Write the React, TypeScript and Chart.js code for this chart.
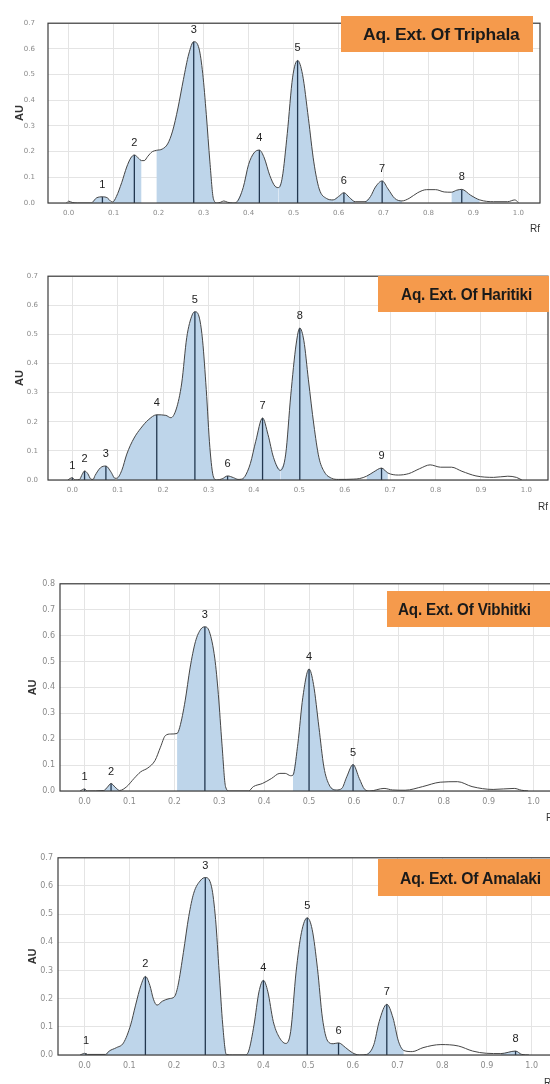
import React, { useEffect, useRef } from "react";
import { Chart, registerables } from "chart.js";

Chart.register(...registerables);

// ---------- axis ticks ----------
const xTickValues = [0, 0.1, 0.2, 0.3, 0.4, 0.5, 0.6, 0.7, 0.8, 0.9, 1.0];
const xTickLabels = ["0.0", "0.1", "0.2", "0.3", "0.4", "0.5", "0.6", "0.7", "0.8", "0.9", "1.0"];
const yTickValues7 = [0, 0.1, 0.2, 0.3, 0.4, 0.5, 0.6, 0.7];
const yTickValues8 = [0, 0.1, 0.2, 0.3, 0.4, 0.5, 0.6, 0.7, 0.8];
const yTickLabels = ["0.0", "0.1", "0.2", "0.3", "0.4", "0.5", "0.6", "0.7", "0.8"];

// ---------- Triphala ----------
const triphalaRf = [-0.005, 0.0, 0.008, 0.02, 0.05, 0.053, 0.062, 0.075, 0.086, 0.094, 0.098, 0.106, 0.118, 0.129, 0.138, 0.146, 0.155, 0.162, 0.168, 0.176, 0.186, 0.195, 0.208, 0.22, 0.231, 0.243, 0.255, 0.267, 0.278, 0.29, 0.298, 0.306, 0.314, 0.322, 0.33, 0.338, 0.345, 0.353, 0.365, 0.373, 0.388, 0.4, 0.412, 0.424, 0.435, 0.447, 0.459, 0.467, 0.475, 0.486, 0.498, 0.509, 0.52, 0.533, 0.545, 0.557, 0.573, 0.588, 0.6, 0.612, 0.624, 0.637, 0.659, 0.671, 0.682, 0.697, 0.71, 0.725, 0.741, 0.757, 0.776, 0.796, 0.816, 0.835, 0.851, 0.863, 0.874, 0.894, 0.914, 0.945, 0.976, 0.992, 1.0];
const triphalaAU = [0.0, 0.007, 0.002, 0.0, 0.0, 0.003, 0.02, 0.024, 0.02, 0.006, 0.004, 0.025, 0.08, 0.14, 0.175, 0.187, 0.175, 0.165, 0.165, 0.182, 0.2, 0.205, 0.21, 0.23, 0.28, 0.37, 0.48, 0.58, 0.628, 0.6, 0.505, 0.345, 0.16, 0.015, 0.0, 0.003, 0.008, 0.003, 0.0, 0.003, 0.06, 0.15, 0.195, 0.206, 0.175, 0.108, 0.065, 0.06, 0.1, 0.27, 0.49, 0.555, 0.5, 0.33, 0.16, 0.055, 0.018, 0.012, 0.025, 0.04, 0.022, 0.005, 0.005, 0.025, 0.062, 0.086, 0.055, 0.018, 0.008, 0.018, 0.04, 0.052, 0.052, 0.043, 0.042, 0.05, 0.053, 0.03, 0.012, 0.005, 0.005, 0.012, 0.002];
const triphalaFills = [[0.053, 0.094], [0.098, 0.162], [0.195, 0.33], [0.373, 0.467], [0.467, 0.588], [0.588, 0.637], [0.659, 0.741], [0.851, 0.914]];
const triphalaPeakRf = [0.075, 0.146, 0.278, 0.424, 0.509, 0.612, 0.697, 0.874];
const triphalaPeakAU = [0.024, 0.187, 0.628, 0.206, 0.555, 0.04, 0.086, 0.053];
const triphalaPeakLabels = ["1", "2", "3", "4", "5", "6", "7", "8"];

// ---------- Haritiki ----------
const haritikiRf = [-0.01, 0.0, 0.006, 0.016, 0.022, 0.027, 0.034, 0.041, 0.046, 0.05, 0.062, 0.074, 0.085, 0.094, 0.098, 0.109, 0.12, 0.136, 0.151, 0.167, 0.186, 0.206, 0.217, 0.229, 0.241, 0.252, 0.264, 0.27, 0.28, 0.287, 0.295, 0.303, 0.311, 0.318, 0.33, 0.342, 0.355, 0.365, 0.373, 0.38, 0.392, 0.404, 0.419, 0.431, 0.443, 0.458, 0.47, 0.481, 0.493, 0.501, 0.51, 0.52, 0.532, 0.543, 0.555, 0.571, 0.586, 0.62, 0.633, 0.648, 0.664, 0.681, 0.695, 0.718, 0.741, 0.765, 0.788, 0.811, 0.835, 0.858, 0.889, 0.928, 0.959, 0.978, 0.99];
const haritikiAU = [0.0, 0.008, 0.0, 0.002, 0.02, 0.031, 0.022, 0.003, 0.002, 0.015, 0.042, 0.048, 0.028, 0.006, 0.006, 0.033, 0.089, 0.144, 0.178, 0.206, 0.224, 0.222, 0.214, 0.244, 0.333, 0.489, 0.567, 0.578, 0.556, 0.478, 0.311, 0.111, 0.01, 0.0, 0.004, 0.014, 0.008, 0.002, 0.003, 0.012, 0.056, 0.133, 0.213, 0.156, 0.078, 0.033, 0.089, 0.289, 0.467, 0.522, 0.478, 0.344, 0.189, 0.078, 0.028, 0.006, 0.002, 0.003, 0.005, 0.013, 0.028, 0.041, 0.024, 0.017, 0.022, 0.039, 0.052, 0.044, 0.044, 0.03, 0.014, 0.009, 0.013, 0.009, 0.0];
const haritikiFills = [[0.016, 0.041], [0.046, 0.094], [0.098, 0.318], [0.33, 0.365], [0.373, 0.458], [0.458, 0.571], [0.648, 0.695]];
const haritikiPeakRf = [0.0, 0.027, 0.074, 0.186, 0.27, 0.342, 0.419, 0.501, 0.681];
const haritikiPeakAU = [0.008, 0.031, 0.048, 0.224, 0.578, 0.014, 0.213, 0.522, 0.041];
const haritikiPeakLabels = ["1", "2", "3", "4", "5", "6", "7", "8", "9"];

// ---------- Vibhitki ----------
const vibhitkiRf = [-0.01, 0.0, 0.006, 0.043, 0.051, 0.059, 0.068, 0.078, 0.094, 0.11, 0.125, 0.141, 0.157, 0.169, 0.18, 0.192, 0.206, 0.212, 0.224, 0.235, 0.247, 0.259, 0.268, 0.278, 0.29, 0.298, 0.306, 0.314, 0.322, 0.365, 0.376, 0.396, 0.416, 0.435, 0.447, 0.459, 0.464, 0.475, 0.486, 0.5, 0.51, 0.522, 0.533, 0.545, 0.561, 0.573, 0.584, 0.598, 0.612, 0.624, 0.635, 0.667, 0.686, 0.714, 0.753, 0.792, 0.831, 0.863, 0.91, 0.957, 0.973, 0.988];
const vibhitkiAU = [0.0, 0.008, 0.0, 0.002, 0.015, 0.029, 0.015, 0.002, 0.017, 0.048, 0.074, 0.089, 0.118, 0.169, 0.214, 0.22, 0.222, 0.246, 0.348, 0.475, 0.577, 0.625, 0.634, 0.615, 0.513, 0.373, 0.182, 0.017, 0.0, 0.0, 0.017, 0.029, 0.048, 0.068, 0.068, 0.059, 0.061, 0.182, 0.36, 0.471, 0.411, 0.246, 0.093, 0.023, 0.004, 0.01, 0.055, 0.102, 0.048, 0.006, 0.0, 0.01, 0.004, 0.003, 0.017, 0.034, 0.036, 0.017, 0.006, 0.01, 0.003, 0.0];
const vibhitkiFills = [[0.043, 0.078], [0.206, 0.322], [0.464, 0.561], [0.561, 0.635]];
const vibhitkiPeakRf = [0.0, 0.059, 0.268, 0.5, 0.598];
const vibhitkiPeakAU = [0.008, 0.029, 0.634, 0.471, 0.102];
const vibhitkiPeakLabels = ["1", "2", "3", "4", "5"];

// ---------- Amalaki ----------
const amalakiRf = [-0.01, 0.0, 0.006, 0.047, 0.055, 0.071, 0.087, 0.103, 0.114, 0.126, 0.136, 0.146, 0.154, 0.162, 0.174, 0.189, 0.201, 0.209, 0.221, 0.233, 0.244, 0.26, 0.27, 0.284, 0.293, 0.301, 0.309, 0.317, 0.331, 0.359, 0.367, 0.379, 0.39, 0.4, 0.41, 0.422, 0.434, 0.45, 0.461, 0.473, 0.485, 0.498, 0.509, 0.521, 0.532, 0.544, 0.556, 0.568, 0.584, 0.599, 0.615, 0.631, 0.647, 0.659, 0.676, 0.69, 0.702, 0.714, 0.733, 0.757, 0.797, 0.836, 0.868, 0.899, 0.931, 0.964, 0.978, 0.994];
const amalakiAU = [0.0, 0.006, 0.002, 0.002, 0.014, 0.026, 0.043, 0.107, 0.177, 0.247, 0.279, 0.247, 0.198, 0.177, 0.191, 0.2, 0.207, 0.247, 0.364, 0.492, 0.574, 0.621, 0.63, 0.597, 0.481, 0.294, 0.107, 0.002, 0.0, 0.0, 0.014, 0.107, 0.224, 0.265, 0.224, 0.119, 0.067, 0.041, 0.084, 0.294, 0.434, 0.487, 0.446, 0.306, 0.131, 0.049, 0.04, 0.043, 0.026, 0.008, 0.0, 0.002, 0.037, 0.119, 0.18, 0.131, 0.049, 0.016, 0.012, 0.026, 0.037, 0.032, 0.014, 0.006, 0.005, 0.014, 0.002, 0.0];
const amalakiFills = [[-0.01, 0.006], [0.047, 0.317], [0.359, 0.615], [0.631, 0.714], [0.931, 0.978]];
const amalakiPeakRf = [0.003, 0.136, 0.27, 0.4, 0.498, 0.568, 0.676, 0.964];
const amalakiPeakAU = [0.006, 0.279, 0.63, 0.265, 0.487, 0.043, 0.18, 0.014];
const amalakiPeakLabels = ["1", "2", "3", "4", "5", "6", "7", "8"];

// ---------- panels (layout in page pixels) ----------
type Geo = {
  plotLeft: number; plotTop: number; plotRight: number; plotBottom: number;
  xMin: number; xMax: number; axisH: number; auPad: number; yTickPad: number; tickSize: number;
  box: { left: number; top: number; width: number; height: number; textPad: number; scaleX: number };
};
type PanelDef = {
  title: string; rf: number[]; au: number[]; fills: number[][];
  peakRf: number[]; peakAU: number[]; peakLabels: string[]; yTicks: number[]; yMax: number; geo: Geo;
};

const panels: PanelDef[] = [
  {
    title: "Aq. Ext. Of Triphala", rf: triphalaRf, au: triphalaAU, fills: triphalaFills,
    peakRf: triphalaPeakRf, peakAU: triphalaPeakAU, peakLabels: triphalaPeakLabels, yTicks: yTickValues7, yMax: 0.7,
    geo: { plotLeft: 48, plotTop: 14, plotRight: 540, plotBottom: 203, xMin: -0.046, xMax: 1.048, axisH: 32, auPad: 13, yTickPad: 13, tickSize: 7,
      box: { left: 341, top: 16, width: 192, height: 36, textPad: 22, scaleX: 1.09 } },
  },
  {
    title: "Aq. Ext. Of Haritiki", rf: haritikiRf, au: haritikiAU, fills: haritikiFills,
    peakRf: haritikiPeakRf, peakAU: haritikiPeakAU, peakLabels: haritikiPeakLabels, yTicks: yTickValues7, yMax: 0.7,
    geo: { plotLeft: 48, plotTop: 270, plotRight: 548, plotBottom: 480, xMin: -0.0535, xMax: 1.0476, axisH: 33, auPad: 13, yTickPad: 10, tickSize: 7,
      box: { left: 378, top: 276, width: 171, height: 36, textPad: 23, scaleX: 0.96 } },
  },
  {
    title: "Aq. Ext. Of Vibhitki", rf: vibhitkiRf, au: vibhitkiAU, fills: vibhitkiFills,
    peakRf: vibhitkiPeakRf, peakAU: vibhitkiPeakAU, peakLabels: vibhitkiPeakLabels, yTicks: yTickValues8, yMax: 0.8,
    geo: { plotLeft: 60, plotTop: 582, plotRight: 556, plotBottom: 791, xMin: -0.0547, xMax: 1.05, axisH: 33, auPad: 26, yTickPad: 5, tickSize: 8,
      box: { left: 387, top: 591, width: 185, height: 36, textPad: 11, scaleX: 0.95 } },
  },
  {
    title: "Aq. Ext. Of Amalaki", rf: amalakiRf, au: amalakiAU, fills: amalakiFills,
    peakRf: amalakiPeakRf, peakAU: amalakiPeakAU, peakLabels: amalakiPeakLabels, yTicks: yTickValues7, yMax: 0.7,
    geo: { plotLeft: 58, plotTop: 856, plotRight: 554, plotBottom: 1055, xMin: -0.0595, xMax: 1.05, axisH: 34, auPad: 26, yTickPad: 5, tickSize: 8,
      box: { left: 378, top: 859, width: 190, height: 37, textPad: 22, scaleX: 0.985 } },
  },
];

const FILL = "#bed5ea";
const LINE = "#454545";
const MARK = "#22374f";
const FONT = "'Liberation Sans', Arial, sans-serif";
const TICKFONT = "'DejaVu Sans', sans-serif";

function Panel({ p }: { p: PanelDef }) {
  const ref = useRef<HTMLCanvasElement | null>(null);
  const g = p.geo;
  const topPad = 8;
  const canvasTop = g.plotTop - topPad;
  const width = Math.ceil(g.plotRight + 4);
  const height = g.plotBottom + g.axisH - canvasTop;

  useEffect(() => {
    if (!ref.current) return;
    const curve = p.rf.map((x, i) => ({ x, y: p.au[i] }));
    const markers: { x: number; y: number | null }[] = [];
    p.peakRf.forEach((x, i) => {
      markers.push({ x, y: 0 }, { x, y: p.peakAU[i] }, { x, y: null });
    });
    const datasets: any[] = [
      {
        data: curve, borderColor: LINE, borderWidth: 1, pointRadius: 0, fill: false,
        cubicInterpolationMode: "monotone",
      },
      {
        data: markers, borderColor: MARK, borderWidth: 1.3, pointRadius: 0, fill: false,
        tension: 0, spanGaps: false,
      },
      ...p.fills.map(([a, b]) => ({
        data: curve.filter((pt) => pt.x >= a - 1e-9 && pt.x <= b + 1e-9),
        borderWidth: 0, borderColor: "rgba(0,0,0,0)", backgroundColor: FILL,
        fill: "origin", pointRadius: 0, cubicInterpolationMode: "monotone",
      })),
    ];

    const decor = {
      id: "decor",
      afterDatasetsDraw(chart: any) {
        const { ctx, chartArea: a } = chart;
        const xs = chart.scales.x;
        const ys = chart.scales.y;
        ctx.save();
        ctx.strokeStyle = "#3c3c3c";
        ctx.lineWidth = 1.2;
        ctx.strokeRect(a.left, a.top, a.right - a.left, a.bottom - a.top);
        ctx.font = `11px ${FONT}`;
        ctx.fillStyle = "#222";
        ctx.textAlign = "center";
        ctx.textBaseline = "middle";
        p.peakRf.forEach((rf, i) => {
          ctx.fillText(p.peakLabels[i], xs.getPixelForValue(rf), ys.getPixelForValue(p.peakAU[i]) - 12);
        });
        ctx.restore();
      },
    };

    const chart = new Chart(ref.current, {
      type: "line",
      data: { datasets },
      options: {
        responsive: false,
        animation: false,
        events: [],
        layout: { padding: { top: topPad, right: width - g.plotRight, left: 0, bottom: 0 } },
        plugins: { legend: { display: false }, tooltip: { enabled: false } },
        scales: {
          x: {
            type: "linear",
            min: g.xMin,
            max: g.xMax,
            afterBuildTicks: (s: any) => { s.ticks = xTickValues.map((v) => ({ value: v })); },
            afterFit: (s: any) => { s.height = g.axisH; },
            ticks: {
              autoSkip: false, maxRotation: 0, padding: 6, color: "#8a8a8a",
              font: { size: g.tickSize, family: TICKFONT },
              callback: (_v: any, i: number) => xTickLabels[i],
            },
            grid: { color: "#e4e4e4", lineWidth: 1, drawTicks: false },
            border: { display: false },
            title: {
              display: true, text: "Rf", align: "end", color: "#333",
              font: { size: 10, family: FONT }, padding: { top: 0, bottom: 0 },
            },
          },
          y: {
            type: "linear",
            min: 0,
            max: p.yMax,
            afterBuildTicks: (s: any) => { s.ticks = p.yTicks.map((v) => ({ value: v })); },
            afterFit: (s: any) => { s.width = g.plotLeft; },
            ticks: {
              padding: g.yTickPad, color: "#8a8a8a",
              font: { size: g.tickSize, family: TICKFONT },
              callback: (_v: any, i: number) => yTickLabels[i],
            },
            grid: { color: "#e4e4e4", lineWidth: 1, drawTicks: false },
            border: { display: false },
            title: {
              display: true, text: "AU", color: "#333",
              font: { size: 11, family: FONT, weight: "bold" }, padding: { top: g.auPad, bottom: 0 },
            },
          },
        },
      } as any,
      plugins: [decor],
    });
    return () => chart.destroy();
  }, []);

  const b = g.box;
  return (
    <>
      <canvas
        ref={ref}
        width={width}
        height={height}
        style={{ position: "absolute", left: 0, top: canvasTop, width, height }}
      />
      <div
        style={{
          position: "absolute", left: b.left, top: b.top, width: b.width, height: b.height,
          background: "#f59a4c", boxSizing: "border-box",
        }}
      >
        <div
          style={{
            position: "absolute", left: b.textPad, top: 1, height: b.height, lineHeight: `${b.height}px`,
            fontFamily: FONT, fontWeight: "bold", fontSize: 16, color: "#1a1a1a", whiteSpace: "nowrap",
            transform: `scaleX(${b.scaleX})`, transformOrigin: "left center", letterSpacing: "-0.2px",
          }}
        >
          {p.title}
        </div>
      </div>
    </>
  );
}

export default function App() {
  return (
    <div
      style={{
        position: "fixed", left: 0, top: 0, width: 550, height: 1084,
        overflow: "hidden", background: "#ffffff",
      }}
    >
      {panels.map((p, i) => (
        <Panel key={i} p={p} />
      ))}
    </div>
  );
}
